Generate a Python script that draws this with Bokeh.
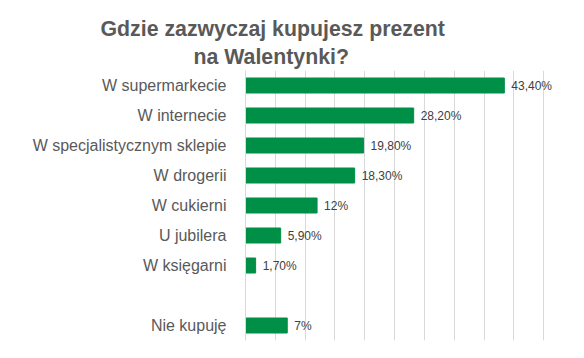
from bokeh.plotting import figure
from bokeh.models import FactorRange, Range1d, Title, FixedTicker, ColumnDataSource
from bokeh.core.properties import value
from bokeh.embed import file_html
from bokeh.resources import INLINE

categories = ["W supermarkecie", "W internecie", "W specjalistycznym sklepie",
              "W drogerii", "W cukierni", "U jubilera", "W księgarni", "Nie kupuję"]
values = [43.4, 28.2, 19.8, 18.3, 12.0, 5.9, 1.7, 7.0]
value_labels = ["43,40%", "28,20%", "19,80%", "18,30%", "12%", "5,90%", "1,70%", "7%"]
slots = ["W supermarkecie", "W internecie", "W specjalistycznym sklepie",
         "W drogerii", "W cukierni", "U jubilera", "W księgarni", " ", "Nie kupuję"]
grid_ticks = [0, 5, 10, 15, 20, 25, 30, 35, 40, 45, 50]

FONT = "Liberation Sans"

p = figure(width=584, height=358, output_backend="svg", toolbar_location=None,
           y_range=FactorRange(factors=list(reversed(slots)), range_padding=0),
           x_range=Range1d(0, 55.5),
           min_border_left=245, min_border_right=8, min_border_bottom=18, min_border_top=70)
p.title = None
p.outline_line_color = None

src = ColumnDataSource(dict(cat=categories, val=values, lab=value_labels))
p.hbar(y="cat", right="val", left=0, height=0.5, source=src, color="#008F47")
p.text(x="val", y="cat", text="lab", source=src, x_offset=7, text_baseline="middle",
       text_align="left", text_font=value(FONT), text_font_size="12px", text_color="#404040")

p.xaxis.visible = False
p.xgrid.ticker = FixedTicker(ticks=grid_ticks)
p.xgrid.grid_line_color = "#d9d9d9"
p.ygrid.grid_line_color = None

ya = p.yaxis[0]
ya.axis_line_color = "#d9d9d9"
ya.major_tick_line_color = None
ya.minor_tick_line_color = None
ya.major_tick_out = 0
ya.major_tick_in = 0
ya.major_label_standoff = 19
ya.major_label_text_font = FONT
ya.major_label_text_font_size = "16px"
ya.major_label_text_color = "#595959"

t2 = Title(text="na Walentynki?", align="left", offset=-52, text_font=FONT,
           text_font_size="21.3px", text_font_style="bold", text_color="#595959", standoff=4)
t1 = Title(text="Gdzie zazwyczaj kupujesz prezent", align="left", offset=-145, text_font=FONT,
           text_font_size="21.3px", text_font_style="bold", text_color="#595959", standoff=0)
p.add_layout(t2, "above")
p.add_layout(t1, "above")

open("out.html", "w").write(file_html(p, INLINE))
